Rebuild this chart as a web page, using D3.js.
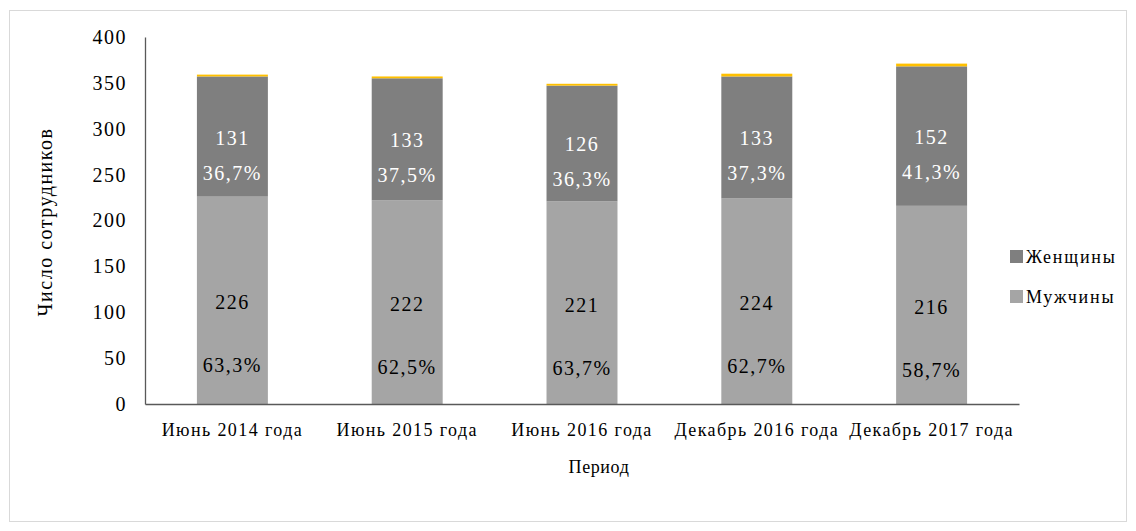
<!DOCTYPE html>
<html><head><meta charset="utf-8">
<script src="https://cdn.jsdelivr.net/npm/d3@7"></script>
<style>body{margin:0;background:#fff}svg{display:block}text{font-family:"Liberation Serif","Times New Roman",serif}</style>
</head><body>
<svg id="c" width="1136" height="531"></svg>
<script>
const categories = ["Июнь 2014 года","Июнь 2015 года","Июнь 2016 года","Декабрь 2016 года","Декабрь 2017 года"];
const men = [226,222,221,224,216];
const women = [131,133,126,133,152];
const other = [2,2,2,3,3];
const menPct = ["63,3%","62,5%","63,7%","62,7%","58,7%"];
const womenPct = ["36,7%","37,5%","36,3%","37,3%","41,3%"];
const yTicks = [0,50,100,150,200,250,300,350,400];
const seriesNames = ["Мужчины","Женщины","Прочие"];
const colors = ["#a5a5a5","#7f7f7f","#ffc000"];

const svg = d3.select("#c");
svg.append("rect").attr("x",9.5).attr("y",10.5).attr("width",1117).attr("height",511)
  .attr("fill","#fff").attr("stroke","#d9d9d9");

const m = {l:145,r:1019,t:37,b:404};
const x = d3.scaleBand().domain(categories).range([m.l,m.r]).paddingInner(0.594).paddingOuter(0.297);
const y = d3.scaleLinear().domain([0,400]).range([m.b,m.t]);

const rows = categories.map((c,i)=>({cat:c,"Мужчины":men[i],"Женщины":women[i],"Прочие":other[i]}));
const stack = d3.stack().keys(seriesNames)(rows);

const g = svg.append("g");
stack.forEach((s,si)=>{
  g.selectAll(null).data(s).enter().append("rect")
    .attr("x",d=>x(d.data.cat)).attr("width",x.bandwidth())
    .attr("y",d=>y(d[1])).attr("height",d=>y(d[0])-y(d[1]))
    .attr("fill",colors[si]);
});

// axes
const yAxis = d3.axisLeft(y).tickValues(yTicks).tickSize(0).tickPadding(18);
const ya = svg.append("g").attr("transform",`translate(${m.l},0)`).call(yAxis);
ya.select(".domain").attr("stroke","#595959").attr("stroke-width",1.3);
ya.selectAll("text").attr("font-size",20).attr("letter-spacing",1.5).attr("fill","#000");

const xAxis = d3.axisBottom(x).tickSize(0).tickPadding(19);
const xa = svg.append("g").attr("transform",`translate(0,${m.b})`).call(xAxis);
xa.select(".domain").attr("stroke","#595959").attr("stroke-width",1.3);
xa.selectAll("text").attr("font-size",18).attr("letter-spacing",1.4).attr("fill","#000");

// labels
const lab = svg.append("g").attr("font-size",20).attr("letter-spacing",1.5).attr("text-anchor","middle");
categories.forEach((c,i)=>{
  const cx = x(c)+x.bandwidth()/2;
  const mc = y(men[i]/2), wc = y(men[i]+women[i]/2);
  lab.append("text").attr("x",cx).attr("y",mc+9).attr("fill","#000").text(men[i]);
  lab.append("text").attr("x",cx).attr("y",mc+72).attr("fill","#000").text(menPct[i]);
  lab.append("text").attr("x",cx).attr("y",wc+8).attr("fill","#fff").text(women[i]);
  lab.append("text").attr("x",cx).attr("y",wc+43).attr("fill","#fff").text(womenPct[i]);
});

// axis titles
svg.append("text").attr("x",599).attr("y",473).attr("text-anchor","middle")
  .attr("font-size",18).attr("letter-spacing",0.6).text("Период");
svg.append("text").attr("transform","translate(52,222) rotate(-90)").attr("text-anchor","middle")
  .attr("font-size",20).attr("letter-spacing",1.5).text("Число сотрудников");

// legend
const legend = [{n:"Женщины",c:colors[1]},{n:"Мужчины",c:colors[0]}];
const lg = svg.append("g").attr("transform","translate(1010,250)");
legend.forEach((d,i)=>{
  lg.append("rect").attr("x",0).attr("y",i*40).attr("width",13).attr("height",13).attr("fill",d.c);
  lg.append("text").attr("x",16).attr("y",i*40+13).attr("font-size",18).attr("letter-spacing",1.8).attr("fill","#000").text(d.n);
});
</script>
</body></html>
